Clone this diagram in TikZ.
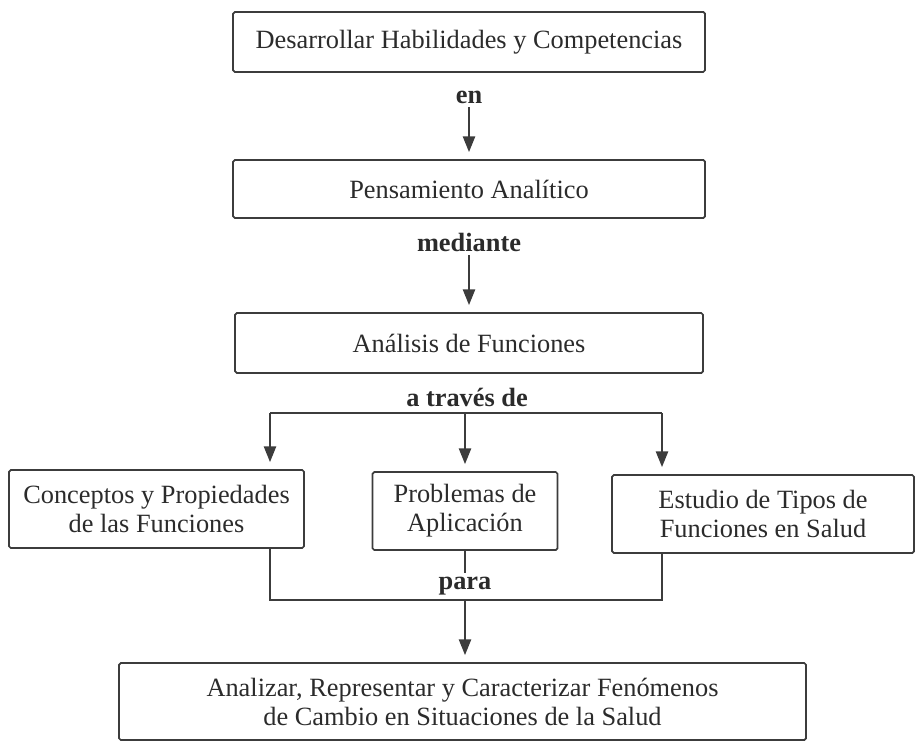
\documentclass[tikz,border=0pt]{standalone}
\usepackage{fontspec}
\setmainfont{Liberation Serif}
\usepackage{xcolor}
\usepackage{tikz}
\usetikzlibrary{arrows.meta}
\definecolor{MapInk}{HTML}{2B2B2B}
\definecolor{MapLine}{HTML}{3C3C3C}

\begin{document}
\begin{tikzpicture}[
  box/.style={draw=MapLine, line width=1pt, rounded corners=1pt, minimum height=1.2cm,
    align=center, inner sep=4pt, font=\fontsize{15}{16.5}\selectfont, text=MapInk},
  link/.style={font=\bfseries\fontsize{15}{16.5}\selectfont, text=MapInk, inner sep=2pt},
  wire/.style={draw=MapLine, line width=1pt},
  arr/.style={wire, -{Triangle[length=9pt,width=7pt]}, shorten >=4pt},
]
  \useasboundingbox (0,0) rectangle (18.4,-14.9);

  \node[box, minimum width=9.44cm] (desa) at (9.38,-0.84)
    {Desarrollar Habilidades y Competencias};
  \node[link] (en) at (9.38,-1.94) {en};
  \node[box, minimum width=9.44cm, minimum height=1.16cm] (pens) at (9.38,-3.78)
    {Pensamiento Analítico};
  \node[link] (medi) at (9.38,-4.84) {mediante};
  \node[box, minimum width=9.36cm] (anal) at (9.38,-6.86)
    {Análisis de Funciones};
  \node[link] (trav) at (9.34,-7.94) {a través de};

  \node[box, minimum width=5.9cm, minimum height=1.56cm] (conc) at (3.13,-10.18)
    {Conceptos y Propiedades\\de las Funciones};
  \node[box, minimum width=3.7cm, minimum height=1.56cm] (prob) at (9.3,-10.22)
    {Problemas de\\Aplicación};
  \node[box, minimum width=6.04cm, minimum height=1.56cm] (estu) at (15.26,-10.28)
    {Estudio de Tipos de\\Funciones en Salud};
  \node[link] (para) at (9.3,-11.72) {para};
  \node[box, minimum width=13.74cm, minimum height=1.54cm] (camb) at (9.25,-14.03)
    {Analizar, Representar y Caracterizar Fenómenos\\de Cambio en Situaciones de la Salud};

  \coordinate (jl) at (5.40,-8.26);
  \coordinate (jm) at (9.3,-8.26);
  \coordinate (jr) at (13.24,-8.26);
  \coordinate (jb) at (9.3,-12.0);

  \draw[arr] (en) -- (pens);
  \draw[arr] (medi) -- (anal);
  \draw[wire] (jl) -- (jr);
  \draw[arr] (jl) -- (jl |- conc.north);
  \draw[arr] (jm) -- (prob);
  \draw[arr] (jr) -- (jr |- estu.north);
  \draw[wire] (prob) -- (para);
  \draw[wire] (jl |- conc.south) |- (jb) -| (jr |- estu.south);
  \draw[arr] (jb) -- (jb |- camb.north);
\end{tikzpicture}
\end{document}
